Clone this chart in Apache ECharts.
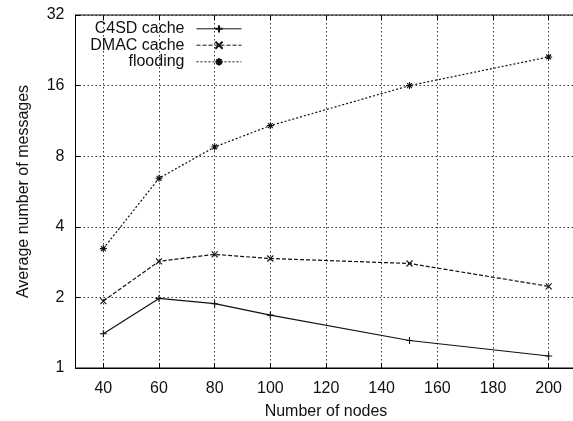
<!DOCTYPE html>
<html>
<head>
<meta charset="utf-8">
<script src="https://cdn.jsdelivr.net/npm/echarts@6/dist/echarts.min.js"></script>
<style>html,body{margin:0;padding:0;background:#fff;}#c{width:573px;height:421px;}</style>
</head>
<body>
<div id="c"></div>
<script>
const xValues = [40, 60, 80, 100, 150, 200];
const c4sd = [1.40, 1.98, 1.88, 1.68, 1.31, 1.125];
const dmac = [1.93, 2.85, 3.05, 2.93, 2.79, 2.23];
const flooding = [3.23, 6.44, 8.76, 10.8, 16.0, 21.2];
const xTicks = [40, 60, 80, 100, 120, 140, 160, 180, 200];
const yTicks = [1, 2, 4, 8, 16, 32];
const seriesNames = ['C4SD cache', 'DMAC cache', 'flooding'];

const FONT = "'Liberation Sans', Arial, Helvetica, sans-serif";
const pair = arr => xValues.map((x, i) => [x, arr[i]]);

const symPlus = 'path://M0,5L10,5M5,0L5,10';
const symX = 'path://M0,0L10,10M10,0L0,10';
const symStar = 'path://M0,5L10,5M5,0L5,10M1.5,1.5L8.5,8.5M8.5,1.5L1.5,8.5';

const gridDash = { color: '#333', width: 1, type: [1.5, 2.5] };

function mkSeries(name, arr, sym, size, lineType) {
  return {
    name: name, type: 'line', data: pair(arr),
    symbol: sym, symbolSize: size, showSymbol: true,
    lineStyle: { color: '#111', width: 1.2, type: lineType },
    itemStyle: { color: '#111', borderColor: '#111', borderWidth: 1.1 },
    emphasis: { disabled: true }, animation: false
  };
}

function mkLegend(name, centerY) {
  return {
    data: [name], orient: 'horizontal', align: 'right',
    right: 331, top: centerY - 8.5, padding: 0,
    itemWidth: 45, itemHeight: 9,
    lineStyle: { width: 1 },
    textStyle: { fontFamily: FONT, fontSize: 16, color: '#111', padding: [0, 7, 0, 0] },
    selectedMode: false
  };
}

const chart = echarts.init(document.getElementById('c'), null, { renderer: 'canvas' });
chart.setOption({
  backgroundColor: '#fff',
  animation: false,
  grid: { left: 75.5, top: 15, width: 501, height: 353, outerBoundsMode: 'none', containLabel: false,
    show: true, borderColor: '#000', borderWidth: 1, backgroundColor: 'transparent' },
  legend: [mkLegend(seriesNames[0], 29.3), mkLegend(seriesNames[1], 45.7), mkLegend(seriesNames[2], 62.3)],
  xAxis: [{
    type: 'value', min: 30, max: 210, position: 'bottom',
    name: 'Number of nodes', nameLocation: 'middle', nameGap: 36,
    nameTextStyle: { fontFamily: FONT, fontSize: 16, color: '#111' },
    axisLine: { show: true, onZero: false, lineStyle: { color: '#000', width: 1 } },
    axisTick: { show: true, inside: true, length: 5, customValues: xTicks, lineStyle: { color: '#000' } },
    axisLabel: { customValues: xTicks, fontFamily: FONT, fontSize: 16, color: '#111', margin: 13 },
    splitLine: { show: true, lineStyle: gridDash }
  }, {
    type: 'value', min: 30, max: 210, position: 'top',
    axisLine: { show: false },
    axisTick: { show: true, inside: true, length: 5, customValues: xTicks, lineStyle: { color: '#000' } },
    axisLabel: { show: false },
    splitLine: { show: false }
  }],
  yAxis: {
    type: 'log', logBase: 2, min: 1, max: 32,
    name: 'Average number of messages', nameLocation: 'middle', nameGap: 44,
    nameTextStyle: { fontFamily: FONT, fontSize: 16, color: '#111' },
    axisLine: { show: true, lineStyle: { color: '#000', width: 1 } },
    axisTick: { show: true, inside: true, length: 5, lineStyle: { color: '#000' } },
    minorTick: { show: false },
    axisLabel: { fontFamily: FONT, fontSize: 16, color: '#111', margin: 11, showMaxLabel: true, showMinLabel: true,
      formatter: v => String(Math.round(v)) },
    splitLine: { show: true, lineStyle: gridDash }
  },
  series: [
    mkSeries(seriesNames[0], c4sd, symPlus, 7, 'solid'),
    mkSeries(seriesNames[1], dmac, symX, 6, [4, 2]),
    mkSeries(seriesNames[2], flooding, symStar, 7, [2, 2])
  ]
});
</script>
</body>
</html>
